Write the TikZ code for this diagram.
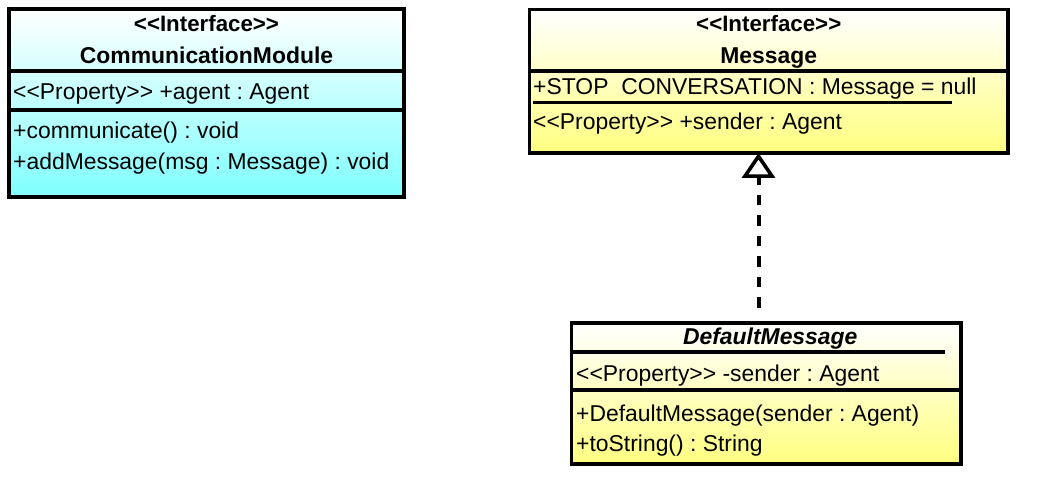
\documentclass[tikz,border=0pt]{standalone}
\usepackage{fontspec}
\setmainfont{Liberation Sans}[Ligatures=TeXOff]
\usetikzlibrary{positioning,arrows.meta,calc}

\definecolor{umlcyan}{RGB}{128,255,255}
\definecolor{umlyellow}{RGB}{255,255,128}

\tikzset{
	umlbox/.style={draw, rectangle, line width=3.6pt, inner sep=0pt, outer sep=0pt},
	cyanbox/.style={umlbox, top color=white, bottom color=umlcyan},
	yellowbox/.style={umlbox, top color=white, bottom color=umlyellow},
	member/.style={anchor=base west, inner sep=0pt, font=\fontsize{22.9pt}{28pt}\selectfont},
	classname/.style={anchor=base, inner sep=0pt, font=\fontsize{22.9pt}{28pt}\selectfont\bfseries},
	stereo/.style={classname, font=\fontsize{22.3pt}{28pt}\selectfont\bfseries},
	compline/.style={line width=3.6pt},
	realization/.style={line width=4pt, dash pattern=on 10.5pt off 10pt, dash phase=10.5pt, shorten <=5pt,
		-{Triangle[open, length=25pt, width=33pt, line width=3.6pt]}}
}

\begin{document}
\frenchspacing
\begin{tikzpicture}[x=1pt, y=1pt]
	\useasboundingbox (0,0) rectangle (1052,498);

	% boxes
	\node [cyanbox, minimum width=395pt, minimum height=188pt] (comm) at (206.5,395) {};
	\node [yellowbox, minimum width=478.5pt, minimum height=143.5pt] (msg) at (768.75,416.75) {};
	\node [yellowbox, minimum width=389.5pt, minimum height=141pt] (dflt) at (766.25,104.5) {};

	% CommunicationModule
	\node [stereo] (commstereo) at ($(comm.north)+(0,-23)$) {<<Interface>>};
	\node [classname] (commname) at ($(comm.north)+(0,-55)$) {CommunicationModule};
	\draw [compline] ($(comm.north west)+(0,-62)$) -- ($(comm.north east)+(0,-62)$);
	\node [member] (commagent) at ($(comm.north west)+(4,-91)$) {<<Property>> +agent : Agent};
	\draw [compline] ($(comm.north west)+(0,-101)$) -- ($(comm.north east)+(0,-101)$);
	\node [member] (commcomm) at ($(comm.north west)+(4,-130)$) {+communicate() : void};
	\node [member] (commadd) at ($(comm.north west)+(4,-161)$) {+addMessage(msg : Message) : void};

	% Message
	\node [stereo] (msgstereo) at ($(msg.north)+(0,-22.5)$) {<<Interface>>};
	\node [classname] (msgname) at ($(msg.north)+(0,-54.5)$) {Message};
	\draw [compline] ($(msg.north west)+(0,-61.5)$) -- ($(msg.north east)+(0,-61.5)$);
	\node [member] (msgstop) at ($(msg.north west)+(3.5,-85.5)$) {+STOP\raisebox{-4.8pt}{\_}CONVERSATION : Message = null};
	\draw [line width=3pt] ($(msgstop.base west)+(0,-8)$) -- ++(419,0);
	\node [member] (msgsender) at ($(msg.north west)+(3.5,-120.5)$) {<<Property>> +sender : Agent};

	% DefaultMessage
	\node [classname, font=\fontsize{22.9pt}{28pt}\selectfont\bfseries\itshape] (dfltname) at ($(dflt.north)+(4,-22)$) {DefaultMessage};
	\draw [line width=3.6pt] ($(dflt.north west)+(1.5,-29)$) -- ++(372,0);
	\node [member] (dfltsender) at ($(dflt.north west)+(4.5,-59)$) {<<Property>> -sender : Agent};
	\draw [compline] ($(dflt.north west)+(0,-67)$) -- ($(dflt.north east)+(0,-67)$);
	\node [member] (dfltctor) at ($(dflt.north west)+(4.5,-99)$) {+DefaultMessage(sender : Agent)};
	\node [member] (dfltstr) at ($(dflt.north west)+(4.5,-129)$) {+toString() : String};

	% realization
	\coordinate (dtop) at ([xshift=-7.75pt]dflt.north);
	\draw [realization] (dtop) -- (dtop |- msg.south);

\end{tikzpicture}
\end{document}
